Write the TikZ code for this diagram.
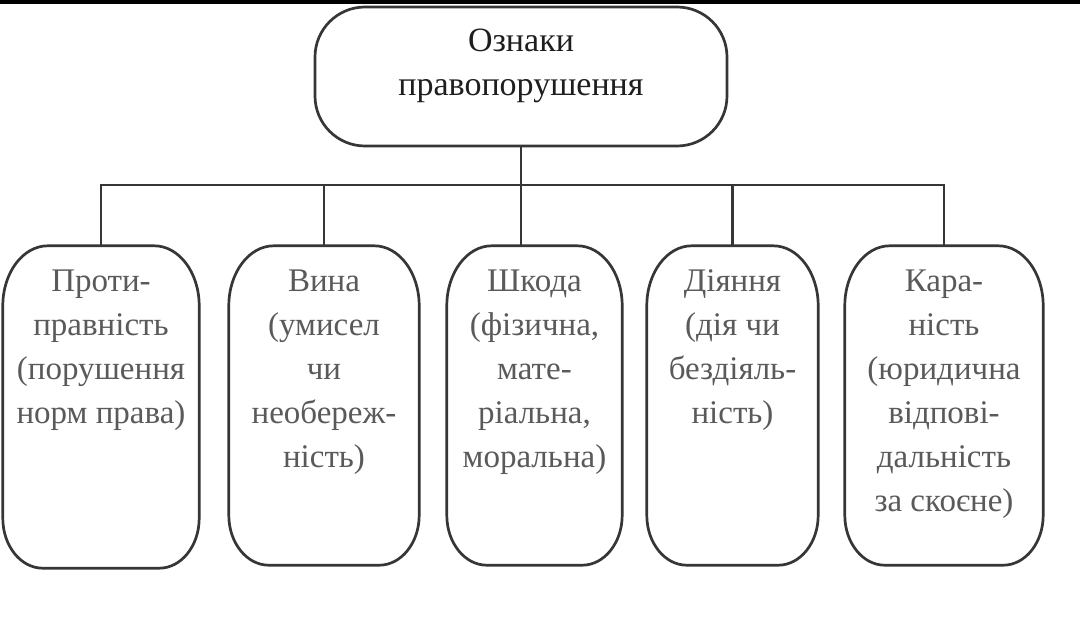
\documentclass[tikz,border=0pt]{standalone}
\usepackage{fontspec}
\setmainfont{Liberation Serif}
\definecolor{linec}{HTML}{363636}
\definecolor{textc}{HTML}{5A5A5A}
\definecolor{toptext}{HTML}{1E1E1E}
\newcommand\archbox[1]{%
  \draw[boxline] ([xshift=45pt]#1.north west) -- ([xshift=-45pt]#1.north east)
    arc[start angle=90, end angle=0, x radius=45pt, y radius=60pt]
    -- ([yshift=50pt]#1.south east)
    arc[start angle=0, end angle=-90, x radius=40pt, y radius=50pt]
    -- ([xshift=40pt]#1.south west)
    arc[start angle=270, end angle=180, x radius=40pt, y radius=50pt]
    -- ([yshift=-60pt]#1.north west)
    arc[start angle=180, end angle=90, x radius=45pt, y radius=60pt]
    -- cycle;}
\begin{document}
\begin{tikzpicture}[x=1pt,y=-1pt,
  boxline/.style={draw=linec, line width=2.7pt, line join=round},
  slot/.style={draw=none, inner sep=0pt},
  topbox/.style={draw=linec, line width=2.7pt, rounded corners=50pt, inner sep=0pt},
  lbl/.style={anchor=north, align=center, inner sep=0pt, text=textc, font=\fontsize{33}{44}\selectfont},
  conn/.style={draw=linec, line width=2.3pt}]
\useasboundingbox[fill=white] (0,0) rectangle (1080,623);
\fill[black] (0,0) rectangle (1080,4);
\coordinate (busy) at (0,185);
\node[topbox, minimum width=412pt, minimum height=139pt] (top) at (521,76.5) {};
\node[slot, minimum width=196pt, minimum height=322pt] (b1) at (101,407) {};
\node[slot, minimum width=190pt, minimum height=319pt] (b2) at (324,405.5) {};
\node[slot, minimum width=175pt, minimum height=319pt] (b3) at (534.5,405.5) {};
\node[slot, minimum width=171pt, minimum height=319pt] (b4) at (732.5,405.5) {};
\node[slot, minimum width=198pt, minimum height=319pt] (b5) at (944,405.5) {};
\archbox{b1}\archbox{b2}\archbox{b3}\archbox{b4}\archbox{b5}
\node[lbl, text=toptext, font=\fontsize{34}{44}\selectfont] (t0) at ([yshift=-15pt]top.north) {\strut Ознаки\\правопорушення};
\node[lbl] (t1) at ([yshift=-15pt]b1.north) {\strut Проти-\\правність\\(порушення\\норм права)};
\node[lbl] (t2) at ([yshift=-15pt]b2.north) {\strut Вина\\(умисел\\чи\\необереж-\\ність)};
\node[lbl] (t3) at ([yshift=-15pt]b3.north) {\strut Шкода\\(фізична,\\мате-\\ріальна,\\моральна)};
\node[lbl] (t4) at ([yshift=-15pt]b4.north) {\strut Діяння\\(дія чи\\бездіяль-\\ність)};
\node[lbl] (t5) at ([yshift=-15pt]b5.north) {\strut Кара-\\ність\\(юридична\\відпові-\\дальність\\за скоєне)};
\draw[conn] (top.south) -- (top.south |- b3.north);
\draw[conn] (b1.north) |- (b5.north |- busy) -- (b5.north);
\draw[conn] (b2.north) -- (b2.north |- busy);
\draw[conn] (b4.north) -- (b4.north |- busy);
\end{tikzpicture}
\end{document}
